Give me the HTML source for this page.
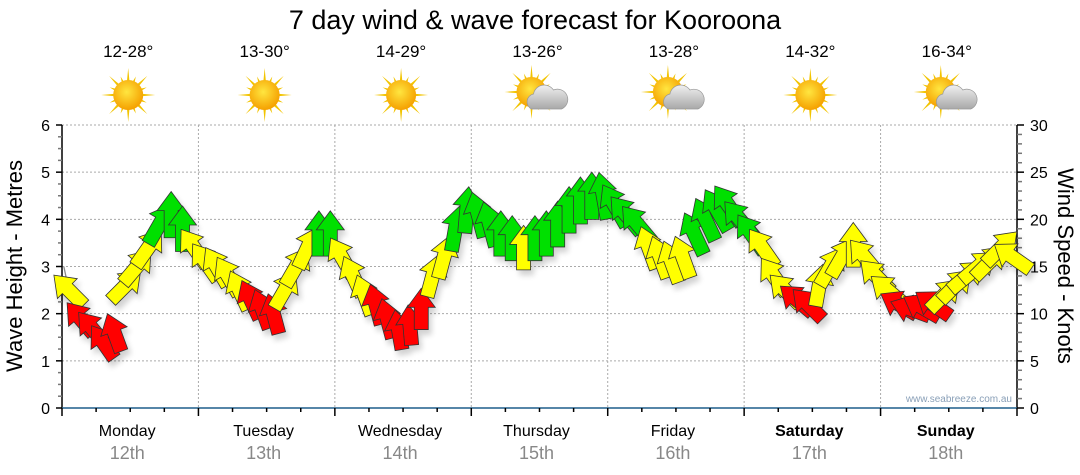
<!DOCTYPE html>
<html><head><meta charset="utf-8"><style>
html,body{margin:0;padding:0;background:#fff;width:1080px;height:475px;overflow:hidden}
svg{display:block;font-family:"Liberation Sans",sans-serif}
</style></head><body>
<svg id="chart" width="1080" height="475">
<defs>
<filter id="sh" x="-50%" y="-50%" width="200%" height="200%"><feGaussianBlur in="SourceAlpha" stdDeviation="3"/><feOffset dx="3" dy="5"/><feComponentTransfer><feFuncA type="linear" slope="0.18"/></feComponentTransfer><feMerge><feMergeNode/><feMergeNode in="SourceGraphic"/></feMerge></filter>
<radialGradient id="sunG" cx="45%" cy="40%" r="60%"><stop offset="0" stop-color="#ffe640"/><stop offset="1" stop-color="#f5a000"/></radialGradient>
<linearGradient id="cloudG" x1="0" y1="0" x2="0" y2="1"><stop offset="0" stop-color="#f0f0f0"/><stop offset="1" stop-color="#a8a8a8"/></linearGradient>
</defs>
<text x="535" y="29" text-anchor="middle" font-size="27" fill="#000">7 day wind &amp; wave forecast for Kooroona</text>
<g id="grid"></g><g id="axes"></g><g id="icons"></g><g id="arrows" filter="url(#sh)"></g>
<text x="22" y="266" font-size="22" text-anchor="middle" transform="rotate(-90 22 266)">Wave Height - Metres</text>
<text x="1058" y="266" font-size="22" text-anchor="middle" transform="rotate(90 1058 266)">Wind Speed - Knots</text>
<text x="1012" y="402" font-size="10" text-anchor="end" fill="#8aa0b8">www.seabreeze.com.au</text>
</svg>
<script>
const days=["Monday","Tuesday","Wednesday","Thursday","Friday","Saturday","Sunday"];
const dates=["12th","13th","14th","15th","16th","17th","18th"];
const temps=["12-28°","13-30°","14-29°","13-26°","13-28°","14-32°","16-34°"];
const cloudy=[false,false,false,true,true,false,true];
const windSpeed=[12.5,9.5,8.5,7,8,13,15,17,19.5,20.5,19,17,
15.5,15,14,12.5,11.5,10.5,10,12.5,15,17,18.5,18.5,
16,14,12,11,9.5,8.3,8.8,10.5,14,16,19,21,
20.5,19.5,18.5,18,17,18,18.5,19.5,21,22,22.5,22.5,
21.5,20.5,19.5,17,16,15.5,16,18.5,20,21,21.5,20,
18.5,17,14,12.5,11.5,11,13,15,16,17.3,16,14,
12.5,11,10.5,10.7,11,12,13,14,15,15.5,17,16];
const windDir=[-45,-40,-40,-35,-20,45,40,35,30,0,0,-35,
-35,-30,-30,-25,-25,-20,-15,30,30,25,0,0,
-30,-25,-20,-15,-15,-10,-5,0,15,15,10,5,
-15,-15,0,0,0,0,0,0,0,0,0,-10,
-30,-40,-40,-20,-20,-20,-20,-25,-25,-30,-35,-40,
-35,-35,-35,-45,-50,-45,10,30,30,0,-40,-45,
-50,-60,-70,-60,-55,45,45,50,50,45,45,-55];
const wave=[3.0,2.3];
const X0=62,X1=1017,Y0=408,Y1=125;
const dayW=(X1-X0)/7;
const xAt=i=>X0+(i+0.6)*dayW/12;
const yM=m=>Y0-(Y0-Y1)*m/6;
const yK=k=>Y0-(Y0-Y1)*k/30;
const NS="http://www.w3.org/2000/svg";
function mk(tag,attrs,parent){const e=document.createElementNS(NS,tag);for(const k in attrs)e.setAttribute(k,attrs[k]);parent.appendChild(e);return e;}
const grid=document.getElementById('grid'),axes=document.getElementById('axes'),icons=document.getElementById('icons'),arrows=document.getElementById('arrows');
for(let m=1;m<=6;m++){const l=mk('line',{x1:X0,x2:X1,y1:yM(m),y2:yM(m),stroke:'#aaa','stroke-dasharray':'2,2'},grid);

}
for(let d=1;d<7;d++){const x=X0+d*dayW;const l=mk('line',{x1:x,x2:x,y1:Y1,y2:Y0,stroke:'#aaa','stroke-dasharray':'2,2'},grid);

}
mk('line',{x1:X0,x2:X0,y1:Y1,y2:Y0,stroke:'#000','stroke-width':1.5},axes);
mk('line',{x1:X1,x2:X1,y1:Y1,y2:Y0,stroke:'#000','stroke-width':1.5},axes);
mk('line',{x1:X0,x2:X1,y1:Y0,y2:Y0,stroke:'#1f5f8b','stroke-width':1.5},axes);
for(let q=0;q<=24;q++){const y=yM(q/4);mk('line',{x1:X0-(q%4?4:6),x2:X0,y1:y,y2:y,stroke:q%4?'#777':'#000','stroke-width':1.5},axes);}
for(let m=0;m<=6;m++){const t=mk('text',{x:50,y:yM(m)+6,'font-size':16,'text-anchor':'end'},axes);t.textContent=m;

}
for(let k=0;k<=30;k++){const y=yK(k);mk('line',{x1:X1,x2:X1+(k%5?5:7),y1:y,y2:y,stroke:k%5?'#777':'#000','stroke-width':1.5},axes);}
for(let k=0;k<=30;k+=5){const t=mk('text',{x:1030,y:yK(k)+6,'font-size':16},axes);t.textContent=k;

}
for(let q=0;q<=28;q++){const x=X0+q*dayW/4;mk('line',{x1:x,x2:x,y1:Y0,y2:Y0+(q%4?4:8),stroke:'#000','stroke-width':1.5},axes);}
for(let d=0;d<7;d++){const cx=X0+(d+0.5)*dayW-3;
const t=mk('text',{x:cx,y:436,'font-size':16,'text-anchor':'middle','font-weight':d>=5?'bold':'normal'},axes);t.textContent=days[d];


const t2=mk('text',{x:cx,y:459,'font-size':18,'text-anchor':'middle',fill:'#888'},axes);t2.textContent=dates[d];


const ix=X0+(d+0.5)*dayW-2;
const tt=mk('text',{x:ix,y:57,'font-size':17,'text-anchor':'middle'},icons);tt.textContent=temps[d];


const g=mk('g',{},icons);


const sx=cloudy[d]?ix-6:ix,sy=cloudy[d]?92:95;
for(let r=0;r<16;r++){const a=r*Math.PI/8,L=r%2?20:27;
mk('polygon',{points:`${sx+Math.cos(a-0.12)*12},${sy+Math.sin(a-0.12)*12} ${sx+Math.cos(a)*L},${sy+Math.sin(a)*L} ${sx+Math.cos(a+0.12)*12},${sy+Math.sin(a+0.12)*12}`,fill:'#f2c400'},g);}
mk('circle',{cx:sx,cy:sy,r:15,fill:'url(#sunG)'},g);
if(cloudy[d]){mk('path',{d:`M${ix-6},${109} a8,8 0 0 1 2,-15 a11,11 0 0 1 20,-4 a8,8 0 0 1 8,19 z`,fill:'url(#cloudG)',stroke:'#999','stroke-width':0.7},g);}
}
mk('polyline',{points:`${xAt(0)-5},${yM(wave[0])} ${xAt(0)+2},${yM(wave[1])}`,fill:'none',stroke:'#888','stroke-width':1.3},grid);
function col(k){return k<12?'#ff0000':(k<18?'#ffff00':'#00e000');}
windSpeed.forEach((k,i)=>{
const L=36+k*0.5,hw=14,sw=7,hl=19;
const h=L/2;
const pts=`0,${-h} ${hw},${-h+hl} ${sw},${-h+hl} ${sw},${h} ${-sw},${h} ${-sw},${-h+hl} ${-hw},${-h+hl}`;
const p=mk('polygon',{points:pts,fill:col(k),stroke:'#333','stroke-width':0.8,transform:`translate(${xAt(i)},${yK(k)}) rotate(${windDir[i]})`},arrows);


});
</script>
</body></html>
